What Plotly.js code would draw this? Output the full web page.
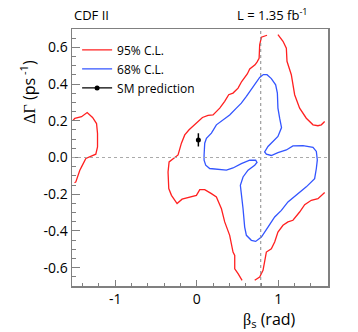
<!DOCTYPE html>
<html>
<head>
<meta charset="utf-8">
<script src="https://cdn.plot.ly/plotly-3.0.1.min.js"></script>
<style>
  html, body { margin: 0; padding: 0; background: #fff; }
  #plot { width: 358px; height: 332px; }
</style>
</head>
<body>
<div id="plot"></div>
<script>
// CDF II beta_s vs DeltaGamma confidence regions

// ------------------ 95% C.L. contour (red), pieces split by null ------------------
const red95Beta = [
  0.862, 0.793, 0.772, 0.765, 0.739, 0.715, 0.650, 0.620, 0.551, 0.507, 0.445, 0.392, 0.343,
  0.282, 0.200, 0.139, 0.070, -0.004, -0.094, -0.147, -0.188, -0.229, -0.290, -0.339,
  -0.352, -0.343, -0.310, -0.241, -0.180, -0.065, -0.004, 0.037, 0.098, 0.180, 0.241,
  0.303, 0.343, 0.404, 0.445, 0.466, 0.466, 0.507, 0.556,
  null,
  0.711, 0.772, 0.813, 0.833, 0.854, 0.915, 0.956, 0.996, 1.058, 1.119, 1.180, 1.262,
  1.324, 1.405, 1.487, 1.569,
  null,
  0.996, 1.058, 1.099, 1.107, 1.160, 1.201, 1.262, 1.344, 1.426, 1.487, 1.528, 1.569,
  null,
  -1.516, -1.495, -1.413, -1.344, -1.278, -1.229, -1.217, -1.217, -1.238, -1.311, -1.360,
  -1.413, -1.434, -1.483, -1.499
];
const red95DG = [
  0.666, 0.655, 0.614, 0.540, 0.520, 0.505, 0.482, 0.455, 0.414, 0.378, 0.351, 0.342, 0.306,
  0.269, 0.232, 0.229, 0.218, 0.187, 0.151, 0.123, 0.078, 0.014, -0.008, -0.024,
  -0.079, -0.169, -0.206, -0.251, -0.227, -0.215, -0.206, -0.175, -0.175, -0.197, -0.215,
  -0.279, -0.351, -0.424, -0.515, -0.533, -0.606, -0.633, -0.669,
  null,
  -0.669, -0.651, -0.615, -0.569, -0.515, -0.497, -0.460, -0.406, -0.369, -0.351, -0.342, -0.297,
  -0.257, -0.233, -0.224, -0.191,
  null,
  0.669, 0.633, 0.596, 0.524, 0.451, 0.342, 0.269, 0.214, 0.178, 0.173, 0.178, 0.196,
  null,
  0.203, 0.213, 0.222, 0.245, 0.218, 0.185, 0.131, 0.058, 0.018, 0.003, -0.005,
  -0.051, -0.069, -0.133, -0.138
];

// ------------------ 68% C.L. contour (blue), closed loop ------------------
const blue68Beta = [
  0.813, 0.862, 0.915, 0.968, 0.989, 0.996, 1.017, 1.040, 0.996, 0.935, 0.874, 0.833, 0.854,
  0.915, 0.996, 1.099, 1.180, 1.303, 1.426, 1.467, 1.479, 1.467, 1.446, 1.344, 1.222,
  1.119, 1.038, 0.956, 0.874, 0.793, 0.723, 0.670, 0.609, 0.588, 0.568, 0.547, 0.535,
  0.568, 0.629, 0.711, 0.739, 0.723, 0.650, 0.547, 0.445, 0.364, 0.261, 0.159, 0.110,
  0.090, 0.090, 0.098, 0.119, 0.180, 0.241, 0.323, 0.404, 0.486, 0.547, 0.609, 0.670,
  0.731, 0.772, 0.813
];
const blue68DG = [
  0.451, 0.451, 0.430, 0.396, 0.351, 0.269, 0.214, 0.163, 0.115, 0.087, 0.060, 0.030, 0.018,
  0.011, 0.027, 0.041, 0.063, 0.065, 0.055, 0.033, -0.013, -0.060, -0.115, -0.160, -0.206,
  -0.242, -0.288, -0.324, -0.379, -0.433, -0.457, -0.451, -0.424, -0.379, -0.279, -0.188, -0.151,
  -0.106, -0.069, -0.042, -0.027, -0.015, -0.015, -0.033, -0.057, -0.069, -0.066, -0.060, -0.042,
  -0.015, 0.014, 0.078, 0.105, 0.133, 0.178, 0.205, 0.232, 0.269, 0.296, 0.333, 0.369,
  0.405, 0.436, 0.451
];

// ------------------ SM prediction ------------------
const smBeta = [0.02];
const smDG = [0.096];
const smErr = [0.036];

// reference lines (dotted)
const refBeta = 0.785;
const refDG = 0;

// ticks
const xTickVals = [-1, 0, 1];
const xTickText = ['-1', '0', '1'];
const yTickVals = [-0.6, -0.4, -0.2, 0, 0.2, 0.4, 0.6];
const yTickText = ['-0.6', '-0.4', '-0.2', '0.0', '0.2', '0.4', '0.6'];

const FONT = 'Open Sans, Liberation Sans, sans-serif';
const SERIF = 'Liberation Serif, DejaVu Serif, serif';
const AXC = '#808080';

const data = [
  {
    x: red95Beta, y: red95DG, name: '95% C.L.', mode: 'lines',
    line: { color: '#ff2020', width: 1.3 }, connectgaps: false
  },
  {
    x: blue68Beta, y: blue68DG, name: '68% C.L.', mode: 'lines',
    line: { color: '#3355ff', width: 1.3 }
  },
  {
    x: smBeta, y: smDG, name: 'SM prediction', mode: 'lines+markers',
    line: { color: '#000', width: 1.2 },
    marker: { color: '#000', size: 5 },
    error_y: { type: 'data', array: smErr, color: '#000', thickness: 1.5, width: 0 }
  }
];

const axisCommon = {
  showgrid: false, zeroline: false,
  showline: true, mirror: true, linecolor: AXC, linewidth: 1.5,
  ticks: 'inside', tickcolor: AXC, tickwidth: 1,
  tickfont: { family: FONT, size: 14, color: '#000' },
  tickmode: 'array'
};

const layout = {
  width: 358, height: 332,
  margin: { l: 72, r: 30, t: 29, b: 46 },
  paper_bgcolor: '#fff', plot_bgcolor: '#fff',
  font: { family: FONT, color: '#000' },
  showlegend: true,
  legend: {
    x: 0.02, y: 0.975, xanchor: 'left', yanchor: 'top',
    bgcolor: 'rgba(0,0,0,0)', font: { family: FONT, size: 12, color: '#000' },
    tracegroupgap: 0
  },
  xaxis: Object.assign({}, axisCommon, {
    range: [-1.53, 1.61], tickvals: xTickVals, ticktext: xTickText, ticklen: 6,
    minor: { ticks: 'inside', ticklen: 3, dtick: 0.2, tick0: 0, tickcolor: AXC }
  }),
  yaxis: Object.assign({}, axisCommon, {
    range: [-0.7, 0.7], tickvals: yTickVals, ticktext: yTickText, ticklen: 8,
    minor: { ticks: 'inside', ticklen: 4, dtick: 0.05, tick0: 0, tickcolor: AXC }
  }),
  shapes: [
    { type: 'line', xref: 'x', yref: 'paper', x0: refBeta, x1: refBeta, y0: 0, y1: 1,
      line: { color: '#888', width: 1, dash: 'dot' } },
    { type: 'line', xref: 'paper', yref: 'y', x0: 0, x1: 1, y0: refDG, y1: refDG,
      line: { color: '#aaa', width: 1, dash: 'dot' } }
  ],
  annotations: [
    { text: 'CDF II', xref: 'paper', yref: 'paper', x: 0, y: 1.01,
      xanchor: 'left', yanchor: 'bottom', showarrow: false,
      font: { family: FONT, size: 13, color: '#000' } },
    { text: 'L = 1.35 fb<sup>-1</sup>', xref: 'paper', yref: 'paper', x: 0.93, y: 1.01,
      xanchor: 'right', yanchor: 'bottom', showarrow: false,
      font: { family: FONT, size: 13, color: '#000' } },
    { text: '<span style="font-family:' + SERIF + '">ΔΓ</span> (ps<sup> -1</sup>)',
      xref: 'paper', yref: 'paper', x: -0.17, y: 0.89, textangle: -90,
      xanchor: 'center', yanchor: 'top', showarrow: false,
      font: { family: FONT, size: 16, color: '#000' } },
    { text: '<span style="font-family:' + SERIF + '">β</span><sub>s</sub> (rad)',
      xref: 'paper', yref: 'paper', x: 0.883, y: -0.078,
      xanchor: 'right', yanchor: 'top', showarrow: false,
      font: { family: FONT, size: 16, color: '#000' } }
  ]
};

Plotly.newPlot('plot', data, layout, { displayModeBar: false, staticPlot: true });
</script>
</body>
</html>
